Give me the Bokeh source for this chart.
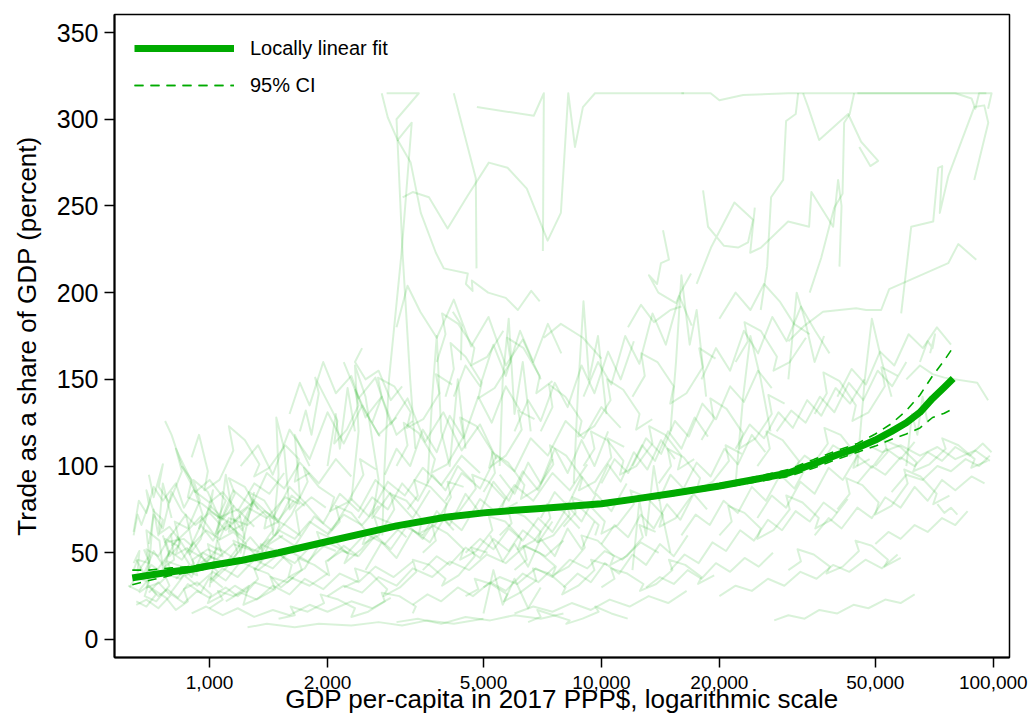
from bokeh.plotting import figure
from bokeh.models import Legend, LegendItem, FixedTicker, NumeralTickFormatter
from bokeh.embed import file_html
from bokeh.resources import INLINE

# ---------------------------------------------------------------------------
# Data
# ---------------------------------------------------------------------------
x_tick_values = [1000, 2000, 5000, 10000, 20000, 50000, 100000]
y_tick_values = [0, 50, 100, 150, 200, 250, 300, 350]

# Locally linear fit of trade share on GDP per capita, with its 95% band
fit_gdp = [635, 700, 800, 900, 1000, 1200, 1500, 2000, 2500, 3000, 4000, 5000,
           6000, 7000, 8000, 10000, 12000, 15000, 20000, 25000, 30000, 35000,
           40000, 45000, 50000, 55000, 60000, 65000, 70000, 75000, 79000]
fit_trade = [35.5, 37.0, 39.0, 40.5, 42.5, 45.5, 50.0, 56.5, 61.5, 65.5, 70.5, 73.0,
             74.5, 75.5, 76.5, 78.3, 80.8, 84.0, 88.5, 92.5, 96.0, 101.5,
             106.5, 110.5, 115.0, 120.0, 125.0, 131.0, 139.0, 145.5, 150.5]
ci_lower = [31.5, 34.0, 37.0, 39.0, 41.0, 44.3, 48.9, 55.4, 60.4, 64.4, 69.4, 71.9,
            73.4, 74.4, 75.4, 77.2, 79.7, 82.8, 87.2, 91.0, 94.0, 99.0,
            104.0, 108.0, 111.5, 115.5, 118.5, 122.0, 128.0, 130.5, 133.0]
ci_upper = [40.0, 40.0, 41.3, 42.2, 44.0, 46.7, 51.1, 57.6, 62.6, 66.6, 71.6, 74.1,
            75.6, 76.6, 77.6, 79.4, 81.9, 85.2, 89.8, 94.0, 98.0, 104.0,
            109.0, 113.0, 118.5, 124.5, 132.0, 141.0, 152.0, 161.0, 168.5]

# Country trajectories (GDP per capita, trade % of GDP): low-income starts
paths_low = [
    [(640, 40), (655, 46), (700, 44), (690, 52), (740, 48), (800, 61), (770, 56), (860, 58), (900, 54), (980, 63), (1060, 58), (1120, 70), (1250, 66), (1380, 74), (1500, 69), (1640, 80)],
    [(620, 31), (660, 28), (700, 35), (690, 30), (750, 33), (800, 39), (780, 45), (850, 42), (900, 36), (960, 50), (1040, 46), (1150, 55), (1300, 51), (1420, 58)],
    [(640, 62), (660, 80), (690, 73), (720, 88), (760, 80), (820, 90), (860, 76), (910, 86), (1000, 79), (1080, 85), (1180, 74), (1300, 90), (1420, 84), (1550, 96)],
    [(770, 126), (800, 118), (850, 100), (900, 92), (880, 82), (960, 78), (1050, 71), (1140, 67), (1250, 76), (1400, 70), (1560, 82), (1700, 78)],
    [(650, 20), (690, 23), (740, 18), (800, 26), (860, 21), (930, 28), (1000, 24), (1100, 30), (1180, 25), (1300, 33), (1450, 29), (1600, 36), (1800, 31), (2000, 38)],
    [(680, 36), (710, 43), (760, 38), (790, 51), (850, 46), (910, 56), (980, 44), (1050, 53), (1150, 47), (1270, 59), (1350, 52), (1500, 62)],
    [(700, 27), (740, 33), (790, 26), (860, 37), (930, 31), (1020, 39), (1100, 34), (1200, 45), (1330, 40), (1500, 49), (1650, 44), (1850, 56), (2100, 51)],
    [(900, 15), (980, 19), (1080, 14), (1180, 18), (1300, 13), (1450, 17), (1600, 14), (1800, 20), (2000, 16), (2300, 22), (2600, 18), (2900, 24)],
    [(1250, 7), (1400, 9), (1650, 7), (1900, 9), (2300, 8), (2700, 10), (3100, 8), (3600, 11), (4200, 9), (5000, 12)],
    [(650, 46), (680, 38), (720, 51), (760, 43), (830, 59), (880, 50), (950, 66), (1020, 57), (1100, 68), (1190, 60)],
    [(1000, 34), (1080, 41), (1180, 36), (1300, 46), (1450, 41), (1600, 51), (1780, 45), (2000, 56), (2250, 50), (2500, 61), (2800, 55), (3100, 66), (3500, 60)],
    [(1200, 100), (1330, 112), (1450, 95), (1600, 121), (1800, 104), (2000, 131), (2200, 113), (2450, 135), (2700, 118), (3000, 128)],
    [(800, 54), (880, 63), (950, 71), (1030, 60), (1150, 86), (1280, 77), (1400, 96), (1550, 87), (1700, 102), (1900, 90), (2100, 104), (2300, 94)],
    [(1500, 60), (1650, 54), (1850, 71), (2050, 63), (2300, 81), (2550, 71), (2850, 91), (3150, 83), (3500, 99), (3900, 89), (4400, 106), (4900, 96)],
    [(700, 55), (720, 72), (760, 64), (800, 85), (850, 74), (920, 66), (1000, 73), (1100, 63), (1200, 71)],
    [(1100, 22), (1200, 27), (1320, 23), (1450, 31), (1600, 26), (1750, 35), (1950, 29), (2150, 38), (2400, 33), (2650, 42), (2950, 36), (3300, 45)],
    [(660, 27), (700, 31), (740, 25), (780, 29), (830, 24), (880, 32), (950, 27), (1000, 36), (1080, 30)],
    [(1600, 130), (1700, 148), (1800, 135), (1950, 160), (2100, 142), (2300, 152), (2500, 128), (2750, 140), (3000, 118), (3300, 126)],
    [(900, 40), (1000, 48), (1100, 44), (1200, 55), (1350, 50), (1500, 63), (1650, 58), (1800, 68), (2000, 61), (2200, 72), (2450, 66), (2700, 77)],
    [(1300, 80), (1450, 70), (1600, 88), (1750, 79), (1950, 67), (2150, 84), (2400, 74), (2650, 92), (2950, 82), (3300, 70), (3650, 86)],
    [(850, 100), (920, 85), (1000, 92), (1100, 80), (1050, 70), (1180, 75), (1300, 65)],
    [(2450, 168), (2350, 160), (2500, 150), (2700, 155), (2900, 138), (3100, 146)],
    [(640, 44), (662, 51), (655, 39), (701, 48), (690, 63), (745, 57), (760, 41), (812, 46), (798, 60), (870, 72), (905, 55), (889, 49), (950, 58), (1020, 86), (1003, 74), (1080, 69), (1150, 77), (1120, 62), (1210, 66), (1300, 81)],
    [(625, 30), (648, 36), (700, 33), (683, 25), (731, 22), (790, 31), (766, 38), (842, 35), (910, 44), (880, 52), (960, 47), (1050, 39), (1010, 33), (1100, 41), (1180, 50), (1150, 57), (1260, 53), (1350, 45), (1420, 55), (1540, 60)],
    [(700, 95), (720, 82), (760, 101), (742, 88), (790, 79), (850, 97), (820, 110), (905, 90), (960, 72), (940, 64), (1005, 77), (1080, 70), (1160, 84), (1120, 93), (1230, 88), (1330, 75)],
    [(650, 22), (690, 19), (730, 26), (705, 30), (775, 24), (820, 17), (880, 22), (860, 29), (930, 33), (1010, 26), (990, 21), (1070, 25), (1160, 31), (1240, 27), (1330, 35), (1300, 41), (1410, 38), (1520, 30), (1640, 36)],
    [(760, 60), (790, 48), (840, 55), (815, 68), (880, 64), (945, 80), (910, 92), (990, 85), (1060, 70), (1040, 61), (1120, 66), (1230, 58), (1190, 73), (1290, 79), (1400, 71), (1380, 64), (1500, 68), (1620, 83), (1750, 77)],
    [(820, 35), (870, 40), (930, 37), (905, 46), (990, 52), (1080, 48), (1050, 57), (1150, 62), (1240, 55), (1210, 45), (1320, 50), (1450, 63), (1420, 71), (1560, 66), (1700, 60), (1660, 74), (1820, 82), (1980, 76)],
    [(900, 105), (940, 118), (990, 97), (970, 86), (1060, 92), (1150, 109), (1120, 123), (1230, 115), (1340, 101), (1300, 94), (1420, 99), (1560, 112), (1690, 104), (1650, 91), (1800, 96)],
    [(1000, 18), (1080, 23), (1050, 28), (1150, 25), (1260, 31), (1220, 20), (1340, 24), (1470, 29), (1430, 36), (1580, 33), (1720, 40), (1680, 47), (1850, 43), (2020, 37), (1980, 45), (2180, 51), (2390, 48)],
    [(1150, 70), (1210, 63), (1290, 77), (1260, 85), (1380, 80), (1510, 66), (1470, 60), (1620, 72), (1780, 91), (1740, 99), (1900, 88), (2080, 82), (2030, 74), (2250, 79), (2470, 95), (2420, 104), (2660, 98)],
    [(1300, 40), (1380, 47), (1350, 55), (1480, 51), (1620, 43), (1590, 36), (1750, 41), (1920, 56), (1880, 62), (2060, 58), (2260, 49), (2210, 44), (2440, 52), (2690, 64), (2630, 71), (2900, 67), (3180, 59)],
    [(1500, 12), (1650, 14), (1610, 19), (1780, 16), (1960, 21), (1920, 26), (2130, 23), (2350, 18), (2300, 13), (2540, 16), (2800, 22), (2750, 27), (3050, 25), (3360, 19), (3300, 15)],
    [(1700, 120), (1760, 132), (1820, 118), (1900, 142), (1860, 151), (1990, 138), (2120, 126), (2080, 113), (2240, 121), (2400, 135), (2350, 144), (2530, 129), (2720, 117)],
    [(680, 52), (700, 45), (690, 36), (740, 41), (790, 50), (770, 58), (830, 54), (890, 43), (870, 37), (940, 42), (1010, 47), (990, 55), (1070, 51)],
    [(2000, 60), (2150, 68), (2100, 77), (2300, 73), (2520, 62), (2460, 55), (2700, 60), (2960, 75), (2900, 84), (3180, 80), (3490, 69), (3420, 61), (3760, 66), (4130, 82), (4050, 91), (4450, 88)],
    [(2200, 30), (2400, 34), (2350, 41), (2580, 38), (2840, 29), (2780, 25), (3060, 30), (3370, 39), (3300, 46), (3640, 43), (4000, 35), (3920, 31), (4320, 37), (4750, 48), (4650, 53), (5120, 50)],
    [(640, 60), (655, 72), (670, 66), (700, 78), (690, 86), (720, 74), (760, 69), (745, 61), (790, 65), (840, 57), (820, 49), (880, 53)],
    [(1450, 60), (1500, 95), (1480, 128), (1550, 110), (1600, 75), (1700, 82), (1650, 118), (1800, 100)],
    [(2300, 80), (2400, 120), (2350, 158), (2500, 140), (2700, 92), (2600, 70), (2900, 85)],
    [(1000, 30), (1050, 60), (1100, 95), (1150, 70), (1200, 50), (1300, 85)],
    [(700, 40), (720, 75), (740, 60), (760, 90), (800, 70)],
    [(2000, 100), (2100, 130), (2150, 110), (2250, 145), (2350, 120)],
]

# Middle-income trajectories
paths_mid = [
    [(2000, 25), (2200, 31), (2450, 27), (2700, 36), (3000, 31), (3300, 41), (3700, 36), (4100, 45), (4600, 40), (5100, 49), (5700, 44), (6400, 54), (7200, 48), (8000, 57)],
    [(2500, 40), (2750, 56), (3000, 47), (3300, 63), (3650, 56), (4000, 71), (4400, 63), (4900, 81), (5400, 73), (6000, 89), (6700, 80), (7500, 96), (8300, 86), (9200, 101)],
    [(2200, 160), (2400, 139), (2650, 151), (2900, 124), (3200, 139), (3550, 114), (3950, 131), (4400, 109), (4900, 124), (5400, 104)],
    [(3000, 180), (3200, 204), (3450, 189), (3800, 174), (4200, 196), (4650, 169), (5150, 186), (5700, 158), (6300, 173), (7000, 150)],
    [(4000, 80), (4400, 96), (4900, 87), (5400, 106), (6000, 97), (6600, 116), (7300, 106), (8100, 126), (9000, 116), (10000, 134), (11200, 122)],
    [(5000, 30), (5500, 36), (6100, 32), (6800, 41), (7500, 36), (8300, 46), (9200, 41), (10200, 51), (11300, 46), (12600, 56), (14000, 50)],
    [(6000, 15), (6700, 19), (7500, 16), (8400, 21), (9400, 17), (10500, 23), (11800, 19), (13200, 25), (14800, 21), (16500, 28)],
    [(3500, 60), (3800, 74), (4100, 66), (4500, 84), (4900, 73), (5300, 91), (5800, 80), (6300, 97), (6900, 86), (7500, 104)],
    [(2800, 95), (3000, 110), (3250, 100), (3500, 121), (3800, 108), (4100, 129), (4450, 116), (4850, 140), (5250, 125), (5700, 146), (6200, 132)],
    [(3300, 20), (3600, 26), (3900, 22), (4300, 30), (4700, 25), (5200, 33), (5700, 28), (6300, 38), (6900, 33), (7600, 42)],
    [(4500, 50), (4900, 58), (5300, 52), (5800, 64), (6300, 57), (6900, 70), (7500, 62), (8200, 77), (8900, 68), (9700, 84), (10600, 74), (11600, 90)],
    [(6000, 120), (6500, 138), (7000, 126), (7600, 148), (8200, 134), (8900, 158), (9600, 142), (10400, 166), (11200, 150), (12100, 172)],
    [(7000, 70), (7600, 85), (8200, 77), (8900, 94), (9600, 84), (10400, 101), (11200, 91), (12100, 108), (13100, 98), (14200, 115), (15400, 104)],
    [(2400, 70), (2600, 82), (2850, 75), (3100, 90), (3400, 80), (3700, 95), (4000, 86), (4300, 100), (4700, 91)],
    [(5500, 95), (6000, 84), (6500, 102), (7000, 90), (7600, 110), (8200, 96), (8900, 115), (9600, 100), (10400, 120)],
    [(3500, 40), (3800, 48), (4100, 43), (4500, 53), (4900, 47), (5300, 58), (5800, 51), (6300, 63), (6900, 56), (7500, 68)],
    [(8000, 30), (8700, 38), (9400, 33), (10200, 44), (11100, 38), (12000, 49), (13000, 43), (14100, 55), (15300, 48), (16600, 60)],
    [(4200, 140), (4500, 158), (4900, 146), (5300, 170), (5700, 152), (6200, 178), (6700, 160), (7300, 182), (7900, 165)],
    [(9000, 140), (9800, 160), (10600, 147), (11500, 175), (12500, 159), (13500, 188), (14600, 170), (15800, 198), (17000, 181)],
    [(2000, 45), (2200, 54), (2400, 48), (2650, 60), (2900, 52), (3200, 66), (3500, 58), (3850, 72), (4200, 63)],
    [(5200, 60), (5600, 45), (6000, 55), (6500, 42), (7000, 58), (7600, 48), (8200, 64), (8900, 52), (9600, 68)],
    [(10000, 55), (10800, 66), (11700, 59), (12600, 72), (13600, 64), (14700, 78), (15900, 69), (17200, 84), (18600, 75)],
    [(3000, 10), (3400, 12), (3900, 9), (4500, 13), (5200, 11), (6000, 14), (7000, 12), (8000, 15)],
    [(3000, 100), (3200, 112), (3130, 125), (3420, 119), (3760, 104), (3680, 96), (4040, 101), (4450, 117), (4360, 128), (4800, 123), (5280, 108), (5170, 99), (5700, 106), (6260, 121), (6130, 132), (6750, 127)],
    [(3500, 50), (3780, 57), (3700, 66), (4050, 61), (4450, 52), (4360, 46), (4790, 51), (5270, 63), (5160, 71), (5680, 68), (6250, 58), (6120, 52), (6740, 57), (7410, 70), (7260, 78), (7990, 74), (8800, 64)],
    [(4000, 140), (4200, 156), (4120, 171), (4500, 163), (4950, 148), (4850, 139), (5340, 145), (5870, 160), (5750, 174), (6330, 168), (6960, 152), (6820, 142), (7500, 149)],
    [(4500, 25), (4850, 29), (4750, 35), (5230, 32), (5750, 26), (5640, 22), (6200, 27), (6820, 34), (6690, 41), (7360, 38), (8100, 30), (7940, 26), (8730, 31), (9600, 40), (9410, 46), (10350, 43)],
    [(5000, 85), (5350, 96), (5250, 108), (5780, 102), (6360, 89), (6230, 81), (6860, 87), (7540, 101), (7390, 112), (8130, 106), (8940, 93), (8760, 86), (9640, 91), (10600, 105), (10390, 116), (11430, 111)],
    [(6000, 40), (6450, 46), (6320, 54), (6950, 50), (7650, 42), (7500, 37), (8250, 42), (9070, 53), (8890, 60), (9780, 57), (10760, 48), (10540, 43), (11600, 48), (12760, 59), (12500, 66), (13750, 62)],
    [(7000, 120), (7500, 134), (7350, 147), (8090, 140), (8900, 126), (8720, 117), (9590, 123), (10550, 138), (10340, 150), (11370, 144), (12510, 130), (12260, 121), (13480, 127)],
    [(3200, 75), (3400, 83), (3330, 92), (3660, 88), (4030, 78), (3950, 70), (4340, 74), (4780, 87), (4680, 95), (5150, 91), (5670, 81), (5550, 74), (6110, 79)],
    [(8000, 65), (8600, 73), (8430, 82), (9270, 78), (10200, 68), (10000, 61), (11000, 66), (12100, 78), (11860, 86), (13040, 82), (14350, 72), (14060, 65), (15470, 70), (17010, 83)],
    [(9000, 100), (9600, 110), (9400, 120), (10350, 115), (11380, 103), (11150, 95), (12270, 100), (13500, 113), (13230, 123), (14550, 118), (16000, 106), (15680, 98), (17250, 104)],
    [(10000, 30), (10800, 35), (10580, 41), (11640, 38), (12800, 32), (12540, 28), (13800, 32), (15180, 40), (14870, 46), (16360, 43), (18000, 36), (17640, 32), (19400, 37)],
    [(3800, 160), (4000, 176), (3920, 188), (4310, 182), (4740, 168), (4650, 158), (5110, 163), (5620, 178)],
    [(12000, 140), (12900, 152), (12640, 165), (13900, 160), (15290, 146), (14980, 136), (16480, 142), (18130, 157), (17770, 168), (19550, 162)],
    [(5500, 60), (5900, 67), (5780, 75), (6360, 71), (7000, 62), (6860, 56), (7540, 60), (8300, 72), (8130, 79), (8940, 75), (9840, 66), (9640, 60)],
    [(14000, 90), (15050, 100), (14750, 110), (16220, 105), (17850, 93), (17490, 86), (19240, 91), (21160, 103), (20740, 112), (22810, 107)],
    [(6500, 10), (7000, 13), (6860, 17), (7550, 14), (8300, 11), (8130, 9), (8950, 12), (9840, 16), (9640, 19), (10600, 15), (11670, 12)],
    [(2600, 125), (2750, 140), (2690, 151), (2960, 146), (3260, 131), (3190, 122), (3510, 127), (3860, 142), (3780, 153), (4160, 147)],
    [(3600, 90), (3700, 140), (3800, 175), (3900, 120), (4100, 100), (4300, 150), (4500, 110)],
    [(5500, 100), (5600, 150), (5800, 185), (6000, 130), (6300, 160), (6600, 120)],
    [(8500, 90), (8700, 140), (9000, 195), (9300, 150), (9800, 175), (10300, 130)],
    [(5000, 15), (5300, 40), (5600, 20), (6000, 35), (6500, 18), (7000, 30)],
    [(12000, 40), (12500, 80), (13000, 60), (13600, 100), (14200, 75), (15000, 50)],
]

# High-income trajectories
paths_high = [
    [(12000, 100), (13000, 116), (14200, 107), (15400, 126), (16700, 117), (18100, 136), (19600, 127), (21300, 146), (23100, 137), (25100, 155), (27200, 145)],
    [(15000, 40), (16300, 49), (17700, 44), (19200, 56), (20800, 51), (22600, 63), (24500, 57), (26600, 69), (28900, 63), (31300, 74), (34000, 68), (36900, 79), (40000, 73)],
    [(20000, 25), (22000, 31), (24200, 28), (26600, 35), (29300, 31), (32200, 39), (35400, 35), (39000, 43), (42900, 39), (47200, 46), (52000, 41), (57000, 49)],
    [(25000, 70), (27200, 83), (29600, 76), (32200, 91), (35000, 84), (38000, 99), (41300, 92), (45000, 106), (49000, 99), (53300, 110), (58000, 104), (63000, 114)],
    [(30000, 95), (33000, 106), (36000, 100), (39000, 112), (43000, 106), (47000, 113), (52000, 108), (58000, 112), (65000, 106), (72000, 111), (80000, 104), (90000, 109), (98000, 103)],
    [(40000, 140), (43500, 156), (47300, 147), (51400, 166), (55900, 158), (60800, 176), (66100, 168), (71800, 180), (78000, 170)],
    [(16000, 60), (17400, 72), (18900, 66), (20500, 80), (22300, 73), (24200, 88), (26300, 80), (28600, 95), (31100, 87), (33800, 102)],
    [(18000, 150), (19600, 168), (21300, 155), (23100, 178), (25100, 165), (27300, 186), (29700, 172), (32300, 192), (35100, 178), (38200, 165)],
    [(22000, 110), (23900, 124), (26000, 116), (28300, 131), (30800, 122), (33500, 138), (36400, 129), (39600, 145), (43100, 136), (46900, 150)],
    [(13000, 30), (14100, 36), (15300, 32), (16600, 40), (18000, 35), (19600, 44), (21300, 39), (23200, 47), (25200, 42), (27400, 50)],
    [(27600, 11), (30000, 14), (33000, 12), (36000, 17), (40000, 15), (44000, 20), (48000, 18), (53000, 23), (58000, 21), (63000, 26)],
    [(35000, 60), (38000, 70), (41000, 64), (45000, 76), (49000, 70), (53000, 82), (58000, 76), (63000, 88), (68000, 80), (74000, 92), (80000, 86), (88000, 94), (95000, 90)],
    [(45000, 90), (49000, 100), (53000, 95), (58000, 105), (63000, 100), (68000, 108), (74000, 103), (80000, 111), (87000, 106), (94000, 113), (99000, 108)],
    [(60000, 150), (65000, 158), (70000, 153), (75000, 151), (91000, 148), (97000, 138)],
    [(65000, 160), (68000, 172), (70000, 168), (71000, 176), (69000, 165)],
    [(72000, 78), (75000, 73), (78000, 76), (81000, 72)],
    [(14000, 80), (15000, 95), (16200, 87), (17500, 102), (19000, 94), (20600, 110), (22300, 101), (24200, 118), (26200, 108)],
    [(10000, 90), (10800, 104), (11700, 96), (12700, 112), (13700, 103), (14800, 120), (16000, 110), (17300, 128), (18700, 117)],
    [(28000, 120), (30500, 132), (33200, 125), (36100, 140), (39300, 131), (42800, 148), (46600, 138), (50700, 155), (55200, 146), (60000, 160)],
    [(50000, 55), (54000, 62), (58000, 58), (63000, 66), (68000, 62), (74000, 70), (80000, 66), (86000, 74)],
    [(20000, 185), (22000, 200), (24000, 190), (26000, 205), (28500, 195), (31000, 182), (34000, 176)],
    [(55000, 85), (60000, 95), (66000, 92), (72000, 100), (78000, 97), (85000, 104), (92000, 100), (98000, 106)],
    [(20000, 60), (21500, 68), (21070, 77), (23180, 73), (25500, 64), (24990, 58), (27490, 63), (30240, 75), (29630, 83), (32600, 79), (35860, 70), (35140, 64), (38650, 69), (42520, 81)],
    [(25000, 100), (26900, 110), (26360, 120), (29000, 115), (31900, 103), (31260, 95), (34390, 100), (37830, 113), (37070, 122), (40780, 118), (44860, 106), (43960, 99), (48360, 104)],
    [(30000, 40), (32300, 45), (31650, 52), (34820, 49), (38300, 42), (37530, 38), (41280, 42), (45410, 51), (44500, 57), (48950, 54), (53850, 46), (52770, 42), (58050, 47)],
    [(18000, 115), (19350, 127), (18960, 139), (20860, 133), (22950, 119), (22490, 110), (24740, 116), (27210, 130), (26670, 141), (29340, 136)],
    [(35000, 130), (37600, 142), (36850, 154), (40530, 149), (44590, 135), (43700, 126), (48070, 131), (52880, 146), (51820, 157), (57000, 152)],
    [(40000, 75), (43000, 84), (42140, 93), (46350, 89), (50990, 79), (49970, 72), (54970, 77), (60470, 90), (59260, 98), (65190, 94), (71700, 84), (70270, 78), (77300, 83)],
    [(22000, 160), (23650, 172), (23180, 183), (25500, 178), (28050, 163), (27490, 155), (30240, 160), (33260, 174)],
    [(50000, 100), (53750, 108), (52680, 115), (57950, 111), (63740, 102), (62470, 97), (68720, 101), (75590, 110), (74080, 116), (81490, 112), (89640, 104), (87850, 99), (96630, 103)],
    [(15000, 120), (15500, 160), (16000, 210), (16800, 170), (17500, 190), (18500, 140)],
    [(22000, 90), (23000, 140), (24000, 175), (25500, 150), (27000, 120)],
    [(45000, 100), (47000, 150), (49000, 185), (52000, 160), (55000, 140)],
    [(30000, 150), (31500, 200), (33000, 185), (35000, 160), (37000, 175)],
    [(60000, 100), (62000, 130), (64000, 118), (66000, 140), (68000, 125)],
]

# Very open economies (trade above ~200% of GDP, top-coded at 315)
paths_open = [
    [(2750, 315), (2850, 301), (3020, 288), (3280, 298), (3090, 223), (2870, 150), (2790, 95), (2760, 60)],
    [(2830, 315), (3420, 315), (3000, 300), (3110, 222), (3250, 150), (3350, 110)],
    [(3110, 255), (3300, 258), (3630, 255), (4050, 237), (4560, 256), (5160, 275), (5760, 272), (6450, 260), (7290, 230), (7880, 246), (8230, 315), (8560, 284), (8970, 307), (9630, 315), (12000, 315), (16250, 315)],
    [(3020, 288), (3260, 275), (3460, 246), (3780, 223), (3960, 214), (4560, 211), (4510, 205), (4690, 201), (4670, 207), (5140, 200), (5700, 197), (6120, 190), (6620, 201), (6960, 195)],
    [(4200, 315), (4780, 266), (4800, 214)],
    [(4810, 307), (6720, 302), (7130, 315), (7090, 224)],
    [(30000, 172), (33000, 181), (36770, 189), (44670, 191), (47360, 190), (51750, 190), (54250, 202), (76740, 217), (81390, 228), (90490, 219)],
    [(58210, 188), (61730, 238), (70260, 241), (72350, 272), (74080, 273), (73030, 246), (76740, 267), (89430, 307), (94840, 308), (97100, 298), (89430, 265)],
    [(31770, 315), (31320, 303), (29600, 299), (29090, 265), (27100, 255), (26480, 215), (25500, 190)],
    [(32710, 315), (33700, 307), (35940, 288), (42620, 303), (46000, 287), (50840, 276), (48550, 273), (45500, 284)],
    [(44150, 315), (43000, 303), (41630, 298), (41240, 257), (39270, 249), (36370, 220), (34000, 200)],
    [(16000, 315), (19000, 315), (20000, 311), (23000, 314), (30000, 315), (45000, 315), (70000, 315), (96000, 315)],
    [(45000, 315), (60000, 315), (80000, 315), (88000, 312), (90000, 306), (92000, 315), (99000, 315), (97000, 306)],
    [(18170, 259), (18710, 238), (20550, 227), (22320, 226), (23670, 229), (24380, 242), (21850, 252), (19040, 226), (17500, 205)],
    [(24630, 249), (23970, 223), (25550, 226), (29950, 241), (33880, 238), (34340, 258), (39030, 238), (40180, 265), (41000, 250), (40500, 215)],
    [(14360, 236), (14870, 219), (14190, 217), (13870, 205), (13220, 210), (13970, 200), (15500, 194), (15900, 200), (16930, 211)],
    [(11690, 180), (12620, 193), (13620, 183), (15000, 190), (16000, 192)],
    [(7130, 174), (7880, 182), (8970, 174), (10000, 162)],
    [(4175, 189), (4400, 181), (4380, 161)],
]

# ---------------------------------------------------------------------------
# Figure
# ---------------------------------------------------------------------------
FONT = "Liberation Sans"
GREEN = "#00aa00"

p = figure(width=1033, height=721, x_axis_type="log",
           x_range=(572, 110000), y_range=(-10.4, 360.4),
           output_backend="svg", toolbar_location=None,
           min_border_left=114, min_border_right=24,
           min_border_top=14, min_border_bottom=64)

p.background_fill_color = "white"
p.border_fill_color = "white"
p.outline_line_color = "black"
p.outline_line_width = 1.5
p.xgrid.visible = False
p.ygrid.visible = False

all_paths = paths_low + paths_mid + paths_high + paths_open
xs = [[pt[0] for pt in path] for path in all_paths]
ys = [[pt[1] for pt in path] for path in all_paths]
p.multi_line(xs, ys, line_color=GREEN, line_alpha=0.15, line_width=2,
             line_join="round")

fit_r = p.line(fit_gdp, fit_trade, line_color=GREEN, line_width=7,
               line_join="round")
ci_lo_r = p.line(fit_gdp, ci_lower, line_color=GREEN, line_width=1.6,
                 line_dash="9 7")
ci_up_r = p.line(fit_gdp, ci_upper, line_color=GREEN, line_width=1.6,
                 line_dash="9 7")

# Axes
p.xaxis.ticker = FixedTicker(ticks=x_tick_values, minor_ticks=[])
p.xaxis.formatter = NumeralTickFormatter(format="0,0")
p.yaxis.ticker = FixedTicker(ticks=y_tick_values, minor_ticks=[])

for ax in (p.xaxis[0], p.yaxis[0]):
    ax.axis_line_color = "black"
    ax.axis_line_width = 2
    ax.major_tick_line_color = "black"
    ax.major_tick_line_width = 1.5
    ax.major_tick_in = 0
    ax.major_tick_out = 10
    ax.minor_tick_out = 0
    ax.minor_tick_in = 0
    ax.major_label_text_font = FONT
    ax.major_label_text_color = "black"
    ax.axis_label_text_font = FONT
    ax.axis_label_text_font_style = "normal"
    ax.axis_label_text_color = "black"

p.xaxis.axis_label = "GDP per-capita in 2017 PPP$, logarithmic scale"
p.xaxis.axis_label_text_font_size = "26px"
p.xaxis.major_label_text_font_size = "19px"
p.xaxis.major_label_standoff = 8
p.xaxis.axis_label_standoff = -8

p.yaxis.axis_label = "Trade as a share of GDP (percent)"
p.yaxis.axis_label_text_font_size = "26px"
p.yaxis.major_label_text_font_size = "25px"
p.yaxis.major_label_standoff = 6
p.yaxis.axis_label_standoff = 12

legend = Legend(items=[
    LegendItem(label="Locally linear fit", renderers=[fit_r]),
    LegendItem(label="95% CI", renderers=[ci_up_r, ci_lo_r]),
], location="top_left")
legend.margin = 10
legend.padding = 10
legend.glyph_width = 100
legend.glyph_height = 28
legend.label_height = 28
legend.spacing = 9
legend.label_standoff = 16
legend.label_text_font = FONT
legend.label_text_font_size = "20px"
legend.label_text_color = "black"
legend.border_line_alpha = 0
legend.background_fill_alpha = 0
p.add_layout(legend)

open("out.html", "w").write(file_html(p, INLINE))
